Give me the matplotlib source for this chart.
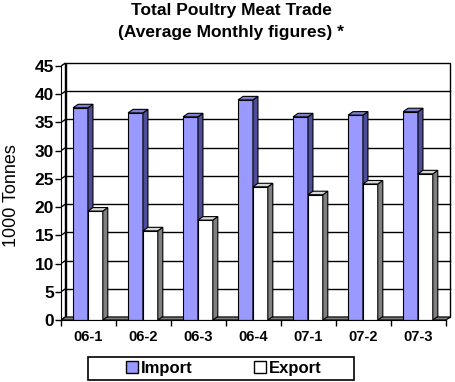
import matplotlib.pyplot as plt
from matplotlib.patches import Polygon, Patch, Rectangle

plt.rcParams['font.family'] = ['Liberation Sans', 'DejaVu Sans']

# data
quarters = ["06-1", "06-2", "06-3", "06-4", "07-1", "07-2", "07-3"]
imports = [37.6, 36.7, 36.0, 39.0, 36.0, 36.3, 36.9]
exports = [19.3, 15.8, 17.7, 23.6, 22.2, 24.1, 25.9]
yticks = [0, 5, 10, 15, 20, 25, 30, 35, 40, 45]

W, H = 455, 382
fig = plt.figure(figsize=(W / 100, H / 100), dpi=100)
# axes box in pixels: x 61..452, y 60..320
ax = fig.add_axes([61 / W, (H - 320) / H, (452 - 61) / W, (320 - 60) / H])
px_x = 55.0      # pixels per category
px_y = 5.644     # pixels per tonne unit
ax.set_xlim(0, 391 / px_x)
ax.set_ylim(0, 260 / px_y)

n = len(quarters)
ymax = yticks[-1]
# depth offsets (data units)
wdx, wdy = 4.5 / px_x, 3.0 / px_y   # wall
bdx, bdy = 5.0 / px_x, 3.5 / px_y   # bars

# back wall
ax.add_patch(Polygon([(wdx, wdy), (n + wdx, wdy), (n + wdx, ymax + wdy), (wdx, ymax + wdy)],
                     closed=True, facecolor='white', edgecolor='black', lw=1, zorder=1))
# side wall
ax.add_patch(Polygon([(0, 0), (wdx, wdy), (wdx, ymax + wdy), (0, ymax)],
                     closed=True, facecolor='white', edgecolor='black', lw=1, zorder=1))
for v in yticks[1:-1]:
    ax.plot([wdx, n + wdx], [v + wdy, v + wdy], color='black', lw=1, zorder=1.5)
    ax.plot([0, wdx], [v, v + wdy], color='black', lw=1, zorder=1.5)
# floor
ax.add_patch(Polygon([(0, 0), (n, 0), (n + wdx, wdy), (wdx, wdy)],
                     closed=True, facecolor='#808080', edgecolor='black', lw=0.8, zorder=2))

bw = 0.27
pos = list(range(n))


def bars3d(lefts, vals, front, side, top, z):
    cont = ax.bar(lefts, vals, width=bw, align='edge', color=front,
                  edgecolor='black', lw=0.8, zorder=z)
    for r in cont:
        x0, w, h = r.get_x(), r.get_width(), r.get_height()
        ax.add_patch(Polygon([(x0 + w, 0), (x0 + w + bdx, bdy), (x0 + w + bdx, h + bdy), (x0 + w, h)],
                             closed=True, facecolor=side, edgecolor='black', lw=0.8, zorder=z))
        ax.add_patch(Polygon([(x0, h), (x0 + w, h), (x0 + w + bdx, h + bdy), (x0 + bdx, h + bdy)],
                             closed=True, facecolor=top, edgecolor='black', lw=0.8, zorder=z))


bars3d([p + 0.22 for p in pos], imports, '#9999FF', '#4D4D99', '#7F7FD0', 3)
bars3d([p + 0.22 + bw for p in pos], exports, 'white', '#808080', '#D8D8D8', 4)

# axes lines and ticks
for s in ['top', 'right']:
    ax.spines[s].set_visible(False)
ax.spines['left'].set_bounds(0, ymax)
ax.spines['bottom'].set_bounds(0, n)
ax.spines['left'].set_zorder(6)
ax.spines['bottom'].set_zorder(6)
ax.set_yticks(yticks)
ax.set_yticklabels([str(v) for v in yticks], fontsize=12.5, fontweight='bold')
ax.set_xticks(range(n + 1))
ax.set_xticklabels([])
ax.set_xticks([p + 0.5 for p in pos], minor=True)
ax.set_xticklabels(quarters, minor=True, fontsize=10.5, fontweight='bold')
ax.tick_params(axis='both', which='major', direction='out', length=4, width=1)
ax.tick_params(axis='x', which='minor', length=0, pad=7)
ax.tick_params(axis='y', pad=1)

fig.text(231 / W, 1 - 11 / H, "Total Poultry Meat Trade", ha='center', va='center',
         fontsize=12.5, fontweight='bold')
fig.text(231 / W, 1 - 33 / H, "(Average Monthly figures) *", ha='center', va='center',
         fontsize=12.5, fontweight='bold')
fig.text(12 / W, 1 - 196 / H, "1000 Tonnes", rotation=90, ha='center', va='center', fontsize=13)

# legend box
fig.patches.append(Rectangle((88 / W, (H - 380) / H), (354 - 88) / W, 23 / H,
                             transform=fig.transFigure, facecolor='white',
                             edgecolor='black', lw=1.2, zorder=1))
handles = [Patch(facecolor='#9999FF', edgecolor='black', label='Import'),
           Patch(facecolor='white', edgecolor='black', label='Export')]
leg = fig.legend(handles=handles, loc='center', ncol=2, frameon=False,
                 bbox_to_anchor=(224 / W, (H - 368.5) / H),
                 prop={'size': 12, 'weight': 'bold'}, handlelength=0.7, handleheight=0.7,
                 handletextpad=0.2, columnspacing=3.7, borderpad=0.1)

fig.savefig('out.png', dpi=100)
